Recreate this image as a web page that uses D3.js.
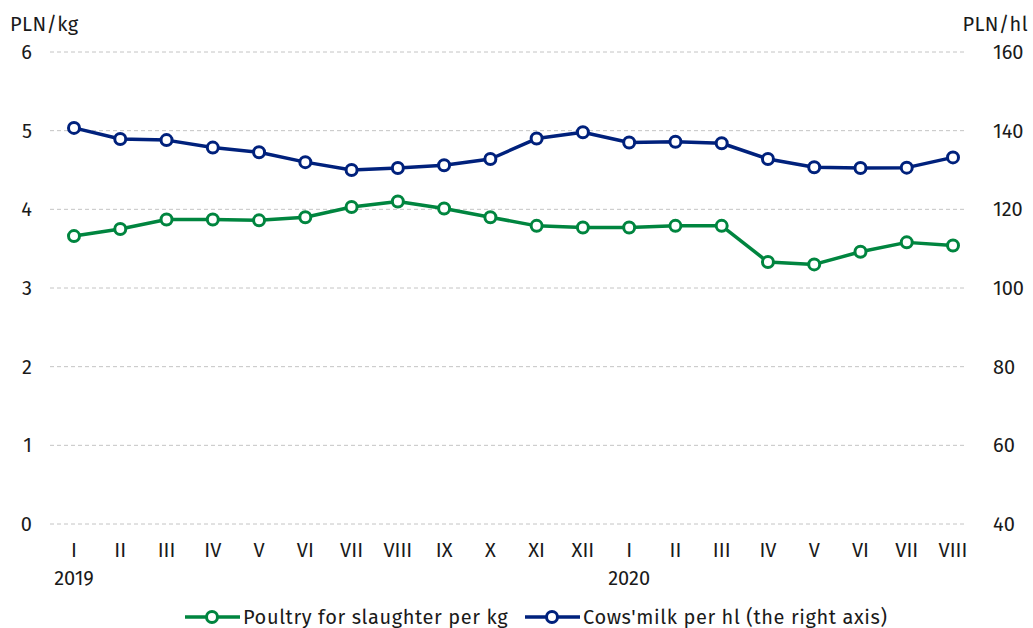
<!DOCTYPE html>
<html>
<head>
<meta charset="utf-8">
<script src="https://cdn.jsdelivr.net/npm/d3@7"></script>
<style>
  body { margin: 0; background: #fff; }
  text { font-family: "Fira Sans", Roboto, "Noto Sans", sans-serif; fill: #1a1a1a; font-size: 20px; }
</style>
</head>
<body>
<script>
(function(){

//chart data
var months = ["I","II","III","IV","V","VI","VII","VIII","IX","X","XI","XII",
              "I","II","III","IV","V","VI","VII","VIII"];
var years = [{idx: 0, label: "2019"}, {idx: 12, label: "2020"}];
var poultry = [3.66, 3.75, 3.87, 3.87, 3.86, 3.90, 4.03, 4.10, 4.01, 3.90,
               3.79, 3.77, 3.77, 3.79, 3.79, 3.33, 3.30, 3.46, 3.58, 3.54];
var milk = [140.7, 137.9, 137.6, 135.7, 134.5, 132.0, 130.0, 130.5, 131.2, 132.8,
            138.0, 139.6, 137.0, 137.2, 136.8, 132.8, 130.7, 130.5, 130.6, 133.2];
var leftTicks = [0, 1, 2, 3, 4, 5, 6];
var rightTicks = [40, 60, 80, 100, 120, 140, 160];
var seriesNames = ["Poultry for slaughter per kg", "Cows'milk per hl (the right axis)"];

var green = "#00853f", blue = "#00217c";

var width = 1033, height = 628;

var svg = d3.select("body").append("svg")
    .attr("width", width)
    .attr("height", height);

//scales
var x = d3.scalePoint()
    .domain(d3.range(months.length))
    .range([74, 953]);
var yL = d3.scaleLinear().domain([0, 6]).range([524, 52]);
var yR = d3.scaleLinear().domain([40, 160]).range([524, 52]);

//gridlines
svg.selectAll(".grid")
    .data(leftTicks)
    .enter()
    .append("line")
    .attr("x1", 50)
    .attr("x2", 967)
    .attr("y1", function(d){ return yL(d); })
    .attr("y2", function(d){ return yL(d); })
    .attr("stroke", "#c4c4c4")
    .attr("stroke-width", 1)
    .attr("stroke-dasharray", "4,3");

//left axis labels
svg.selectAll(".lt")
    .data(leftTicks)
    .enter()
    .append("text")
    .attr("x", 32)
    .attr("y", function(d){ return yL(d); })
    .attr("dy", "0.35em")
    .attr("text-anchor", "end")
    .text(function(d){ return d; });

//right axis labels
svg.selectAll(".rt")
    .data(rightTicks)
    .enter()
    .append("text")
    .attr("x", 993)
    .attr("y", function(d){ return yR(d); })
    .attr("dy", "0.35em")
    .attr("text-anchor", "start")
    .text(function(d){ return d; });

//units
svg.append("text").attr("x", 10).attr("y", 31)
    .style("letter-spacing", "0.4px").text("PLN/kg");
svg.append("text").attr("x", 1028).attr("y", 31)
    .attr("text-anchor", "end")
    .style("letter-spacing", "0.4px").text("PLN/hl");

//month labels
svg.selectAll(".mt")
    .data(months)
    .enter()
    .append("text")
    .attr("x", function(d, i){ return x(i); })
    .attr("y", 557)
    .attr("text-anchor", "middle")
    .text(function(d){ return d; });

svg.selectAll(".yr")
    .data(years)
    .enter()
    .append("text")
    .attr("x", function(d){ return x(d.idx); })
    .attr("y", 585)
    .attr("text-anchor", "middle")
    .text(function(d){ return d.label; });

//draw a series
function drawSeries(values, yScale, color){
  var line = d3.line()
      .x(function(d, i){ return x(i); })
      .y(function(d){ return yScale(d); });

  svg.append("path")
      .datum(values)
      .attr("d", line)
      .attr("fill", "none")
      .attr("stroke", color)
      .attr("stroke-width", 3.5)
      .attr("stroke-linejoin", "round");

  svg.selectAll(null)
      .data(values)
      .enter()
      .append("circle")
      .attr("cx", function(d, i){ return x(i); })
      .attr("cy", function(d){ return yScale(d); })
      .attr("r", 5.5)
      .attr("fill", "#fff")
      .attr("stroke", color)
      .attr("stroke-width", 3);
}

drawSeries(poultry, yL, green);
drawSeries(milk, yR, blue);

//legend
var legend = [
  {name: seriesNames[0], color: green, x: 185},
  {name: seriesNames[1], color: blue, x: 525}
];
var lg = svg.selectAll(".legend")
    .data(legend)
    .enter()
    .append("g")
    .attr("transform", function(d){ return "translate(" + d.x + ",617)"; });

lg.append("line")
    .attr("x1", 0).attr("x2", 55)
    .attr("stroke", function(d){ return d.color; })
    .attr("stroke-width", 3.5);
lg.append("circle")
    .attr("cx", 27).attr("r", 5.5)
    .attr("fill", "#fff")
    .attr("stroke", function(d){ return d.color; })
    .attr("stroke-width", 3);
lg.append("text")
    .attr("x", 58)
    .attr("dy", "0.35em")
    .style("letter-spacing", "0.6px")
    .text(function(d){ return d.name; });

})();
</script>
</body>
</html>
